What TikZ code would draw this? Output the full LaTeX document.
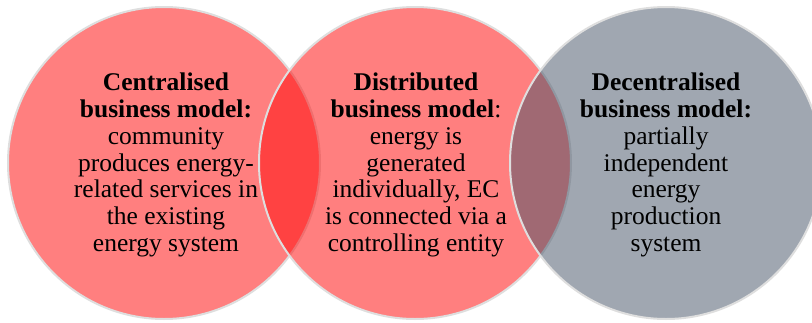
\documentclass[tikz,border=0pt]{standalone}
\usepackage{fontspec}
\setmainfont{Liberation Serif}
\definecolor{redfill}{RGB}{255,10,10}
\definecolor{grayfill}{RGB}{73,87,106}
\definecolor{rim}{RGB}{222,222,222}
\begin{document}
\begin{tikzpicture}[x=1pt,y=-1pt,
  venn/.style={circle,minimum size=312pt,inner sep=0pt,fill opacity=0.52,draw=rim,draw opacity=1,line width=2pt},
  label/.style={align=center,inner sep=0pt,font=\fontsize{25.5}{26.8}\selectfont,text=black}]
\useasboundingbox (0,0) rectangle (812,322);
\node[venn,fill=redfill] (left) at (164,163) {};
\node[venn,fill=redfill] (mid) at (415,163) {};
\node[venn,fill=grayfill] (right) at (666,163) {};
\node[label] (lt) at (166,165) {\textbf{Centralised}\\\textbf{business model:}\\community\\produces energy-\\related services in\\the existing\\energy system};
\node[label] (mt) at (416,165) {\textbf{Distributed}\\\textbf{business model}:\\energy is\\generated\\individually, EC\\is connected via a\\controlling entity};
\node[label] (rt) at (666,165) {\textbf{Decentralised}\\\textbf{business model:}\\partially\\independent\\energy\\production\\system};
\end{tikzpicture}
\end{document}
